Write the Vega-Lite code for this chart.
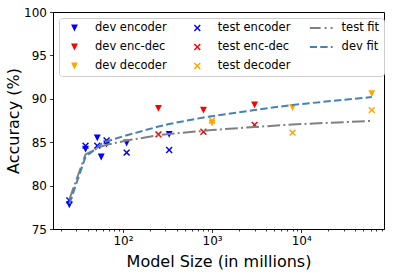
{
  "$schema": "https://vega.github.io/schema/vega-lite/v6.json",
  "width": 331,
  "height": 217,
  "autosize": {"type": "none"},
  "padding": {"left": 53, "top": 12, "right": 10, "bottom": 46},
  "config": {
    "font": "DejaVu Sans",
    "background": "white",
    "view": {"stroke": "black", "strokeWidth": 1},
    "axis": {
      "grid": false, "domainColor": "black", "tickColor": "black", "labelColor": "black",
      "titleColor": "black", "labelFont": "DejaVu Sans", "titleFont": "DejaVu Sans",
      "titleFontWeight": "normal", "labelFontSize": 12, "titleFontSize": 16,
      "tickWidth": 0.8, "domainWidth": 0.8, "labelOverlap": false, "labelFlush": false
    },
    "legend": {
      "labelFont": "DejaVu Sans", "labelFontSize": 11.5, "labelColor": "black",
      "fillColor": "rgba(255,255,255,0.8)", "strokeColor": "#cccccc", "cornerRadius": 3,
      "padding": 4, "rowPadding": 7, "columnPadding": 18.8, "symbolSize": 529, "clipHeight": 12,
      "symbolOffset": 0, "labelOffset": 9, "symbolStrokeWidth": 0, "symbolOpacity": 1
    }
  },
  "datasets": {
    "points": [
      {"series": "dev encoder", "size": 25, "acc": 77.8},
      {"series": "dev encoder", "size": 38, "acc": 84.2},
      {"series": "dev encoder", "size": 51.5, "acc": 85.5},
      {"series": "dev encoder", "size": 57, "acc": 83.3},
      {"series": "dev encoder", "size": 65.5, "acc": 84.8},
      {"series": "dev encoder", "size": 110, "acc": 84.9},
      {"series": "dev encoder", "size": 330, "acc": 85.9},
      {"series": "test encoder", "size": 25, "acc": 78.3},
      {"series": "test encoder", "size": 38, "acc": 84.6},
      {"series": "test encoder", "size": 51.5, "acc": 84.6},
      {"series": "test encoder", "size": 65.5, "acc": 85.2},
      {"series": "test encoder", "size": 110, "acc": 83.8},
      {"series": "test encoder", "size": 330, "acc": 84.1},
      {"series": "dev enc-dec", "size": 250, "acc": 88.9},
      {"series": "dev enc-dec", "size": 800, "acc": 88.7},
      {"series": "dev enc-dec", "size": 3000, "acc": 89.3},
      {"series": "test enc-dec", "size": 250, "acc": 85.9},
      {"series": "test enc-dec", "size": 800, "acc": 86.2},
      {"series": "test enc-dec", "size": 3000, "acc": 87.0},
      {"series": "dev decoder", "size": 1000, "acc": 87.2},
      {"series": "dev decoder", "size": 8000, "acc": 89.0},
      {"series": "dev decoder", "size": 62000, "acc": 90.6},
      {"series": "test decoder", "size": 1000, "acc": 87.5},
      {"series": "test decoder", "size": 8000, "acc": 86.1},
      {"series": "test decoder", "size": 62000, "acc": 88.7}
    ],
    "fits": [
      {"series": "test fit", "size": 25, "acc": 78.4},
      {"series": "test fit", "size": 38, "acc": 83.6},
      {"series": "test fit", "size": 51.5, "acc": 84.3},
      {"series": "test fit", "size": 57, "acc": 84.5},
      {"series": "test fit", "size": 65.5, "acc": 84.7},
      {"series": "test fit", "size": 110, "acc": 85.2},
      {"series": "test fit", "size": 250, "acc": 85.8},
      {"series": "test fit", "size": 330, "acc": 85.95},
      {"series": "test fit", "size": 800, "acc": 86.3},
      {"series": "test fit", "size": 1000, "acc": 86.4},
      {"series": "test fit", "size": 3000, "acc": 86.75},
      {"series": "test fit", "size": 8000, "acc": 87.05},
      {"series": "test fit", "size": 62000, "acc": 87.45},
      {"series": "dev fit", "size": 25, "acc": 77.9},
      {"series": "dev fit", "size": 38, "acc": 83.3},
      {"series": "dev fit", "size": 51.5, "acc": 84.4},
      {"series": "dev fit", "size": 57, "acc": 84.8},
      {"series": "dev fit", "size": 65.5, "acc": 85.1},
      {"series": "dev fit", "size": 110, "acc": 85.8},
      {"series": "dev fit", "size": 250, "acc": 86.8},
      {"series": "dev fit", "size": 330, "acc": 87.1},
      {"series": "dev fit", "size": 800, "acc": 87.85},
      {"series": "dev fit", "size": 1000, "acc": 88.0},
      {"series": "dev fit", "size": 3000, "acc": 88.7},
      {"series": "dev fit", "size": 8000, "acc": 89.3},
      {"series": "dev fit", "size": 62000, "acc": 90.2}
    ]
  },
  "layer": [
    {
      "data": {"name": "points"},
      "mark": {"type": "point", "filled": true, "opacity": 1, "strokeWidth": 0, "size": 529},
      "encoding": {
        "x": {
          "field": "size", "type": "quantitative",
          "scale": {"type": "log", "domain": [16.4, 85000], "nice": false},
          "axis": {
            "title": "Model Size (in millions)",
            "values": [20,30,40,50,60,70,80,90,100,200,300,400,500,600,700,800,900,1000,2000,3000,4000,5000,6000,7000,8000,9000,10000,20000,30000,40000,50000,60000,70000,80000],
            "labelExpr": "datum.value == 100 ? '10²' : datum.value == 1000 ? '10³' : datum.value == 10000 ? '10⁴' : ''",
            "tickSize": {"condition": {"test": "datum.value == 100 || datum.value == 1000 || datum.value == 10000", "value": 3.5}, "value": 2},
            "labelPadding": 3, "titlePadding": 7
          }
        },
        "y": {
          "field": "acc", "type": "quantitative",
          "scale": {"domain": [75, 100], "nice": false, "zero": false},
          "axis": {"title": "Accuracy (%)", "values": [75,80,85,90,95,100], "tickSize": 3.5, "labelPadding": 3, "titlePadding": 2}
        },
        "color": {
          "field": "series", "type": "nominal",
          "scale": {
            "domain": ["dev encoder", "test encoder", "test fit", "dev enc-dec", "test enc-dec", "dev fit", "dev decoder", "test decoder"],
            "range": ["#0000ff", "#0000ff", "#808080", "#ff0000", "#ff0000", "#4682b4", "#ffa500", "#ffa500"]
          },
          "legend": {"title": null, "orient": "none", "legendX": 6, "legendY": 6, "columns": 3, "direction": "horizontal"}
        },
        "shape": {
          "field": "series", "type": "nominal",
          "scale": {
            "domain": ["dev encoder", "test encoder", "test fit", "dev enc-dec", "test enc-dec", "dev fit", "dev decoder", "test decoder"],
            "range": [
              "M-0.3,-0.3L0.3,-0.3L0,0.3Z",
              "M-0.21,-0.3L0,-0.09L0.21,-0.3L0.3,-0.21L0.09,0L0.3,0.21L0.21,0.3L0,0.09L-0.21,0.3L-0.3,0.21L-0.09,0L-0.3,-0.21Z",
              "M-1,-0.087H-0.043V0.087H-1Z M0.304,-0.087H0.478V0.087H0.304Z M0.826,-0.087H1V0.087H0.826Z",
              "M-0.3,-0.3L0.3,-0.3L0,0.3Z",
              "M-0.21,-0.3L0,-0.09L0.21,-0.3L0.3,-0.21L0.09,0L0.3,0.21L0.21,0.3L0,0.09L-0.21,0.3L-0.3,0.21L-0.09,0L-0.3,-0.21Z",
              "M-1,-0.087H-0.357V0.087H-1Z M-0.078,-0.087H0.565V0.087H-0.078Z M0.843,-0.087H1V0.087H0.843Z",
              "M-0.3,-0.3L0.3,-0.3L0,0.3Z",
              "M-0.21,-0.3L0,-0.09L0.21,-0.3L0.3,-0.21L0.09,0L0.3,0.21L0.21,0.3L0,0.09L-0.21,0.3L-0.3,0.21L-0.09,0L-0.3,-0.21Z"
            ]
          },
          "legend": {"title": null, "orient": "none", "legendX": 6, "legendY": 6, "columns": 3, "direction": "horizontal"}
        }
      }
    },
    {
      "data": {"name": "fits"},
      "mark": {"type": "line", "strokeWidth": 2},
      "encoding": {
        "x": {"field": "size", "type": "quantitative"},
        "y": {"field": "acc", "type": "quantitative"},
        "stroke": {
          "field": "series", "type": "nominal",
          "scale": {"domain": ["test fit", "dev fit"], "range": ["#808080", "#4682b4"]},
          "legend": null
        },
        "strokeDash": {
          "field": "series", "type": "nominal",
          "scale": {"domain": ["test fit", "dev fit"], "range": [[12.8, 3.2, 2, 3.2], [7.4, 3.2]]},
          "legend": null
        }
      }
    }
  ]
}
